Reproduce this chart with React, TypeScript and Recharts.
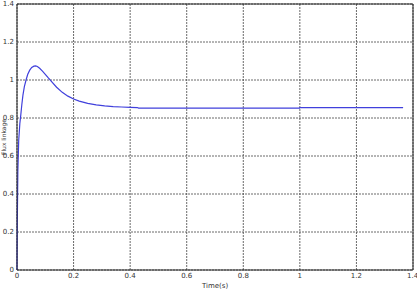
import { LineChart, Line, XAxis, YAxis, CartesianGrid, ReferenceLine, Label } from 'recharts'

const time = [0, 0.001, 0.003, 0.006, 0.01, 0.013, 0.017, 0.021, 0.026, 0.032, 0.038, 0.045, 0.052, 0.06, 0.066, 0.072, 0.08, 0.09, 0.1, 0.11, 0.12, 0.14, 0.16, 0.18, 0.2, 0.22, 0.25, 0.28, 0.31, 0.34, 0.37, 0.4, 0.425, 0.43, 0.6, 0.8, 0.999, 1.0, 1.2, 1.365]
const flux = [0, 0.25, 0.52, 0.68, 0.77, 0.81, 0.87, 0.92, 0.965, 1.0, 1.03, 1.052, 1.066, 1.073, 1.074, 1.071, 1.062, 1.047, 1.03, 1.012, 0.995, 0.962, 0.935, 0.915, 0.9, 0.889, 0.877, 0.869, 0.864, 0.86, 0.858, 0.856, 0.855, 0.852, 0.852, 0.852, 0.852, 0.855, 0.855, 0.855]
const xTicks = [0, 0.2, 0.4, 0.6, 0.8, 1, 1.2, 1.4]
const yTicks = [0, 0.2, 0.4, 0.6, 0.8, 1, 1.2, 1.4]

const data = time.map((t, i) => ({ t, v: flux[i] }))

const tickStyle = { fontSize: 7, fill: '#333', fontFamily: 'DejaVu Sans' }

export default function App() {
  return (
    <div style={{ position: 'absolute', left: 0, top: 0, background: '#fff' }}>
      <LineChart width={417} height={289} data={data} margin={{ top: 4, right: 4, bottom: 0, left: 0 }}>
        <CartesianGrid stroke="#444" strokeDasharray="2 1" strokeWidth={0.8} />
        <XAxis
          dataKey="t"
          type="number"
          domain={[0, 1.4]}
          ticks={xTicks}
          height={19}
          tickSize={0}
          tickMargin={3}
          tick={tickStyle}
          stroke="#222"
        >
          <Label value="Time(s)" position="insideBottom" offset={1} style={{ fontSize: 7, fill: '#333', fontFamily: 'DejaVu Sans' }} />
        </XAxis>
        <YAxis
          type="number"
          domain={[0, 1.4]}
          ticks={yTicks}
          width={17}
          tickSize={0}
          tickMargin={3}
          tick={tickStyle}
          stroke="#222"
          label={{
            content: () => (
              <text x={3} y={137} transform="rotate(-90 3 137)" textAnchor="middle" dominantBaseline="central" fontSize={6} fill="#333" fontFamily="DejaVu Sans">
                Flux linkage
              </text>
            ),
          }}
        />
        <ReferenceLine y={1.4} stroke="#222" strokeWidth={1} />
        <ReferenceLine x={1.4} stroke="#222" strokeWidth={1} />
        <Line type="linear" dataKey="v" stroke="#4040dc" strokeWidth={1.2} dot={false} isAnimationActive={false} />
      </LineChart>
    </div>
  )
}
